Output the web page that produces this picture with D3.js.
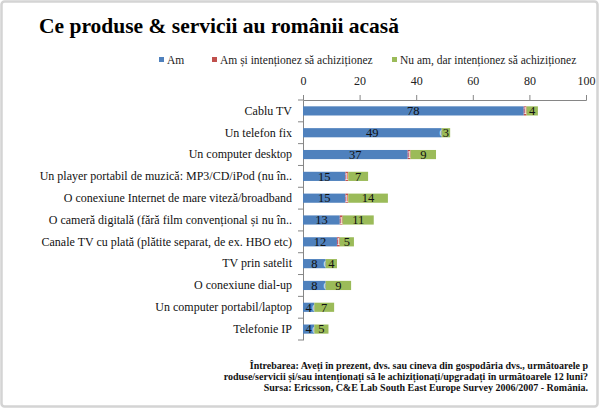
<!DOCTYPE html>
<html><head><meta charset="utf-8">
<script src="https://cdn.jsdelivr.net/npm/d3@7/dist/d3.min.js"></script>
<style>body{margin:0;background:#fff}svg{display:block}text{font-family:"Liberation Serif","Times New Roman",serif}</style>
</head><body><svg id="c" width="600" height="409"></svg>
<script>
const categories = ["Cablu TV","Un telefon fix","Un computer desktop","Un player portabil de muzică: MP3/CD/iPod (nu în..","O conexiune Internet de mare viteză/broadband","O cameră digitală (fără film convențional și nu în..","Canale TV cu plată (plătite separat, de ex. HBO etc)","TV prin satelit","O conexiune dial-up","Un computer portabil/laptop","Telefonie IP"];
const seriesNames = ["Am","Am și intenționez să achiziționez","Nu am, dar intenționez să achiziționez"];
const am = [78,49,37,15,15,13,12,8,8,4,4];
const amSi = [1,0,1,1,1,1,1,0,0,0,0];
const nuAm = [4,3,9,7,14,11,5,4,9,7,5];
const ticks = [0,20,40,60,80,100];
const colors = ["#4f81bd","#c0504d","#9bbb59"];
const footnote = ["Întrebarea: Aveți în prezent, dvs. sau cineva din gospodăria dvs., următoarele p","roduse/servicii și/sau intenționați să le achiziționați/upgradați în următoarele 12 luni?","Sursa: Ericsson, C&E Lab South East Europe Survey 2006/2007 - România."];

const svg = d3.select("#c");
svg.append("rect").attr("x",1.5).attr("y",1.5).attr("width",596).attr("height",405).attr("rx",3)
  .attr("fill","#fff").attr("stroke","#d4d4d4").attr("stroke-width",2.5);

svg.append("text").attr("x",39).attr("y",33).attr("font-size",21.5).attr("font-weight","bold").attr("fill","#000")
  .text("Ce produse & servicii au românii acasă");

// legend
const legX = [159,212,392];
seriesNames.forEach((n,i)=>{
  svg.append("rect").attr("x",legX[i]).attr("y",57).attr("width",5).attr("height",5).attr("fill",colors[i]);
  svg.append("text").attr("x",legX[i]+8).attr("y",63.5).attr("font-size",11.5).attr("fill","#222").text(n);
});

const x = d3.scaleLinear().domain([0,100]).range([303,586]);
const y = d3.scaleBand().domain(categories).range([100,340]).paddingInner(0.58).paddingOuter(0.29);
const y0 = d3.scaleBand().domain(categories).range([100,340]);

// top axis
const xa = svg.append("g").attr("transform","translate(0,100)")
  .call(d3.axisTop(x).tickValues(ticks).tickSize(5).tickPadding(10).tickFormat(d3.format("d")));
xa.attr("font-family",null);
xa.select(".domain").attr("stroke","#868686");
xa.selectAll(".tick line").attr("stroke","#868686");
xa.selectAll("text").attr("font-size",12).attr("fill","#222");

// category axis
const ya = svg.append("g").attr("transform","translate(303,0)")
  .call(d3.axisLeft(y0).tickSize(0).tickPadding(11));
ya.attr("font-family",null);
ya.select(".domain").attr("stroke","#868686");
ya.selectAll("text").attr("font-size",12).attr("fill","#111");
// ticks at band boundaries
const bounds = categories.map(c=>y0(c)).concat([340]);
svg.append("g").selectAll("line").data(bounds).join("line")
  .attr("x1",298).attr("x2",303).attr("y1",d=>d).attr("y2",d=>d).attr("stroke","#868686");

const series = [am,amSi,nuAm];
categories.forEach((c,i)=>{
  let acc = 0;
  series.forEach((s,k)=>{
    const v = s[i];
    const x0 = x(acc), x1 = x(acc+v);
    svg.append("rect").attr("x",x0).attr("y",y(c)).attr("width",x1-x0).attr("height",y.bandwidth()).attr("fill",colors[k]);
    const cx = (x0+x1)/2;
    svg.append("text").attr("x",cx).attr("y",y(c)+y.bandwidth()/2+(k===1?3.5:4.3)).attr("text-anchor","middle")
      .attr("font-size",k===1?(v===0?8.5:10):12.5).attr("fill",k===1?"#fff":"#111")
      .text(v);
    acc += v;
  });
});

footnote.forEach((t,i)=>{
  svg.append("text").attr("x",588).attr("y",369+i*11).attr("text-anchor","end").attr("font-size",10)
    .attr("font-weight","bold").attr("fill","#111").text(t);
});
</script></body></html>
